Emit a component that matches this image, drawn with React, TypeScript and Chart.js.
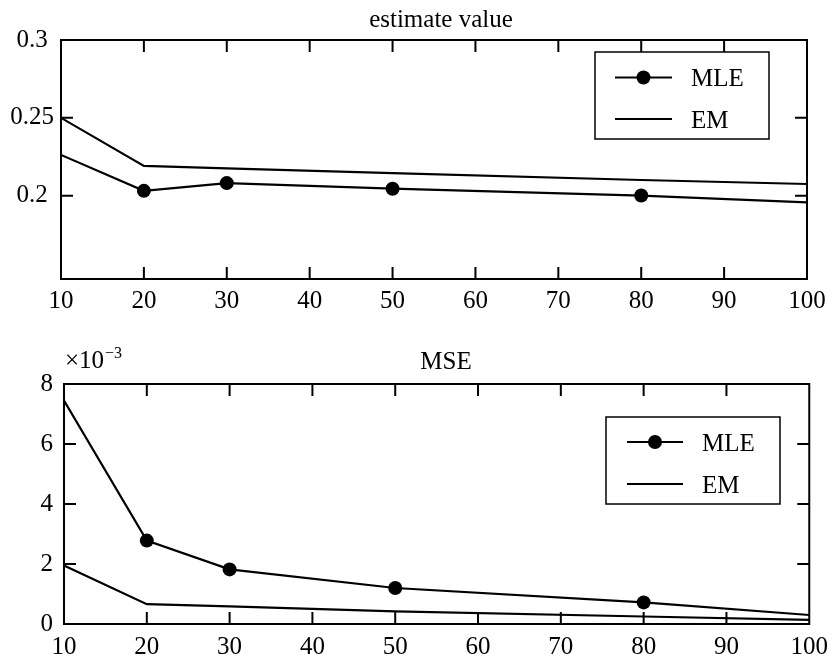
import React, { useEffect, useRef } from "react";
import { Chart, registerables } from "chart.js";

Chart.register(...registerables);

// ---------- data ----------
const xValues = [10, 20, 30, 50, 80, 100];
const xTicks = [10, 20, 30, 40, 50, 60, 70, 80, 90, 100];
const seriesLabels = ["MLE", "EM"];

const estimateMLE = [0.2262, 0.2031, 0.2081, 0.2045, 0.2001, 0.1957];
const estimateEM = [0.25, 0.2191, 0.2176, 0.2145, 0.2101, 0.2075];
const estimateYTicks = [0.2, 0.25, 0.3];

const mseMLE = [0.00745, 0.00278, 0.00182, 0.0012, 0.00072, 0.0003];
const mseEM = [0.00195, 0.00066, 0.00059, 0.00042, 0.00025, 0.00014];
const mseYTicks = [0, 0.002, 0.004, 0.006, 0.008];

const titles = ["estimate value", "MSE"];
const exponentBase = "\u00d710";
const exponentPower = "\u22123";

// ---------- styling ----------
const FONT = "'Liberation Serif', 'Times New Roman', Times, serif";
const W = 836;
const LINE_W = 2.2;
const MARKER_R = 7;

type PanelCfg = {
  H: number;
  area: { left: number; right: number; top: number; bottom: number };
  yMin: number;
  yMax: number;
  yTicks: number[];
  yFormat: (v: number) => string;
  yPadding: number;
  yCross: "near" | "center" | "far";
  xPadding: number;
  mle: number[];
  em: number[];
  title: string;
  titleX: number;
  titleY: number;
  exponent: boolean;
  legend: { x: number; y: number; w: number; h: number; row1: number; row2: number; lineX0: number; lineX1: number; textX: number };
};

function framePlugin(cfg: PanelCfg) {
  return {
    id: "frame",
    afterDraw(chart: any) {
      const ctx: CanvasRenderingContext2D = chart.ctx;
      const { left, right, top, bottom } = chart.chartArea;
      const xs = chart.scales.x;
      const ys = chart.scales.y;
      const L = 12;
      ctx.save();
      ctx.strokeStyle = "#000";
      ctx.lineWidth = 2;
      ctx.strokeRect(left, top, right - left, bottom - top);
      ctx.beginPath();
      xs.ticks.forEach((t: any) => {
        const px = xs.getPixelForValue(t.value);
        if (px <= left + 1 || px >= right - 1) return;
        ctx.moveTo(px, bottom);
        ctx.lineTo(px, bottom - L);
        ctx.moveTo(px, top);
        ctx.lineTo(px, top + L);
      });
      ys.ticks.forEach((t: any) => {
        const py = ys.getPixelForValue(t.value);
        if (py <= top + 1 || py >= bottom - 1) return;
        ctx.moveTo(left, py);
        ctx.lineTo(left + L, py);
        ctx.moveTo(right, py);
        ctx.lineTo(right - L, py);
      });
      ctx.stroke();

      // title
      ctx.fillStyle = "#000";
      ctx.font = `25px ${FONT}`;
      ctx.textAlign = "center";
      ctx.textBaseline = "alphabetic";
      ctx.fillText(cfg.title, cfg.titleX, cfg.titleY);

      // exponent label
      if (cfg.exponent) {
        ctx.textAlign = "left";
        ctx.font = `25px ${FONT}`;
        const bx = left + 1;
        const by = top - 16;
        ctx.fillText(exponentBase, bx, by);
        const wb = ctx.measureText(exponentBase).width;
        ctx.font = `16px ${FONT}`;
        ctx.fillText(exponentPower, bx + wb + 1, by - 10);
      }

      // legend
      const lg = cfg.legend;
      ctx.fillStyle = "#fff";
      ctx.fillRect(lg.x, lg.y, lg.w, lg.h);
      ctx.lineWidth = 1.5;
      ctx.strokeStyle = "#000";
      ctx.strokeRect(lg.x, lg.y, lg.w, lg.h);
      const rows = [lg.row1, lg.row2];
      chart.data.datasets.forEach((ds: any, i: number) => {
        const ry = lg.y + rows[i];
        ctx.beginPath();
        ctx.lineWidth = LINE_W;
        ctx.moveTo(lg.x + lg.lineX0, ry);
        ctx.lineTo(lg.x + lg.lineX1, ry);
        ctx.stroke();
        if (i === 0) {
          ctx.beginPath();
          ctx.fillStyle = "#000";
          ctx.arc(lg.x + (lg.lineX0 + lg.lineX1) / 2, ry, MARKER_R, 0, Math.PI * 2);
          ctx.fill();
        }
        ctx.fillStyle = "#000";
        ctx.font = `25px ${FONT}`;
        ctx.textAlign = "left";
        ctx.textBaseline = "alphabetic";
        ctx.fillText(ds.label, lg.x + lg.textX, ry + 8.5);
      });
      ctx.restore();
    },
  };
}

function makeChart(canvas: HTMLCanvasElement, cfg: PanelCfg) {
  const last = xValues.length - 1;
  return new Chart(canvas, {
    type: "line",
    data: {
      datasets: [
        {
          label: seriesLabels[0],
          data: xValues.map((x, i) => ({ x, y: cfg.mle[i] })),
          borderColor: "#000",
          borderWidth: LINE_W,
          pointRadius: (c: any) => (c.dataIndex === 0 || c.dataIndex === last ? 0 : MARKER_R),
          pointBackgroundColor: "#000",
          pointBorderColor: "#000",
          pointBorderWidth: 0,
          tension: 0,
          fill: false,
        },
        {
          label: seriesLabels[1],
          data: xValues.map((x, i) => ({ x, y: cfg.em[i] })),
          borderColor: "#000",
          borderWidth: LINE_W,
          pointRadius: 0,
          tension: 0,
          fill: false,
        },
      ],
    },
    options: {
      responsive: false,
      animation: false,
      events: [],
      layout: {
        padding: { left: 0, top: cfg.area.top, right: W - cfg.area.right, bottom: 0 },
      },
      plugins: {
        legend: { display: false },
        title: { display: false },
        tooltip: { enabled: false },
      },
      scales: {
        x: {
          type: "linear",
          min: 10,
          max: 100,
          grid: { display: false, drawTicks: false },
          border: { display: false },
          afterBuildTicks: (s: any) => {
            s.ticks = xTicks.map((v) => ({ value: v }));
          },
          afterFit: (s: any) => {
            s.height = cfg.H - cfg.area.bottom;
          },
          ticks: {
            color: "#000",
            font: { family: FONT, size: 25 },
            padding: cfg.xPadding,
            autoSkip: false,
            maxRotation: 0,
            callback: (v: any) => String(v),
          },
        },
        y: {
          type: "linear",
          min: cfg.yMin,
          max: cfg.yMax,
          grid: { display: false, drawTicks: false },
          border: { display: false },
          afterBuildTicks: (s: any) => {
            s.ticks = cfg.yTicks.map((v) => ({ value: v }));
          },
          afterFit: (s: any) => {
            s.width = cfg.area.left;
          },
          ticks: {
            color: "#000",
            font: { family: FONT, size: 25 },
            padding: cfg.yPadding,
            crossAlign: cfg.yCross,
            autoSkip: false,
            callback: (v: any) => cfg.yFormat(Number(v)),
          },
        },
      },
    },
    plugins: [framePlugin(cfg)],
  } as any);
}

const topCfg: PanelCfg = {
  H: 310,
  area: { left: 61, right: 807, top: 40, bottom: 279 },
  yMin: 0.1465,
  yMax: 0.3,
  yTicks: estimateYTicks,
  yFormat: (v) => String(Math.round(v * 1000) / 1000),
  yPadding: 7,
  yCross: "center",
  xPadding: 7,
  mle: estimateMLE,
  em: estimateEM,
  title: titles[0],
  titleX: 441,
  titleY: 27,
  exponent: false,
  legend: { x: 595, y: 52, w: 174, h: 87, row1: 25.5, row2: 67, lineX0: 20, lineX1: 77, textX: 96 },
};

const bottomCfg: PanelCfg = {
  H: 347,
  area: { left: 64, right: 811, top: 74, bottom: 314 },
  yMin: 0,
  yMax: 0.008,
  yTicks: mseYTicks,
  yFormat: (v) => String(Math.round(v * 1000)),
  yPadding: 11,
  yCross: "near",
  xPadding: 8,
  mle: mseMLE,
  em: mseEM,
  title: titles[1],
  titleX: 446,
  titleY: 59,
  exponent: true,
  legend: { x: 606, y: 107, w: 174, h: 87, row1: 25, row2: 67, lineX0: 21, lineX1: 77, textX: 96 },
};

export default function App() {
  const topRef = useRef<HTMLCanvasElement>(null);
  const botRef = useRef<HTMLCanvasElement>(null);

  useEffect(() => {
    const charts: Chart[] = [];
    if (topRef.current) charts.push(makeChart(topRef.current, topCfg));
    if (botRef.current) charts.push(makeChart(botRef.current, bottomCfg));
    return () => charts.forEach((c) => c.destroy());
  }, []);

  return (
    <div style={{ position: "absolute", left: 0, top: 0, width: W, height: 657, background: "#fff" }}>
      <canvas
        ref={topRef}
        width={W}
        height={topCfg.H}
        style={{ position: "absolute", left: 0, top: 0, width: W, height: topCfg.H }}
      />
      <canvas
        ref={botRef}
        width={W}
        height={bottomCfg.H}
        style={{ position: "absolute", left: 0, top: topCfg.H, width: W, height: bottomCfg.H }}
      />
    </div>
  );
}
